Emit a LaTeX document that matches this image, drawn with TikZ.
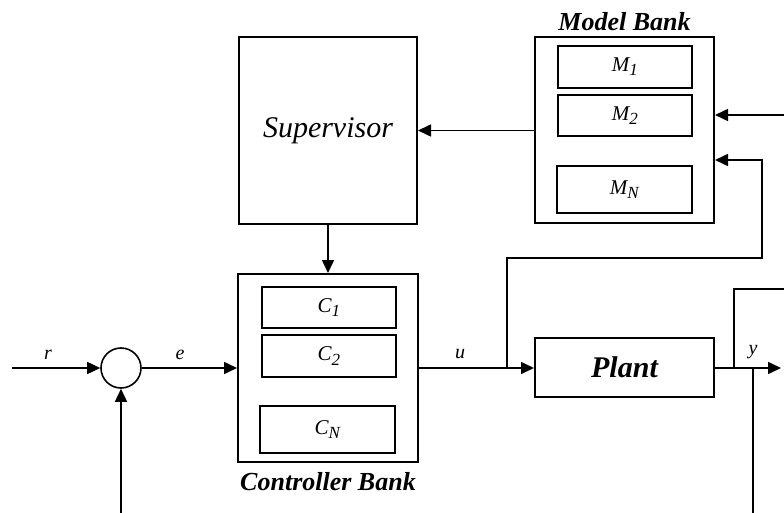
\documentclass[tikz,border=0pt]{standalone}
\usepackage{fontspec}
\setmainfont{Liberation Serif}
\usetikzlibrary{arrows.meta,calc}

\tikzset{
  block/.style={draw, line width=2pt, inner sep=0pt, rectangle},
  subblock/.style={draw, line width=1.8pt, inner sep=0pt, rectangle, font=\fontsize{21}{24}\selectfont\itshape},
  wire/.style={line width=1.6pt},
  arr/.style={wire, -{Triangle[length=13pt,width=12pt]}},
  sig/.style={font=\fontsize{20}{22}\selectfont\itshape, inner sep=0pt},
  title/.style={font=\fontsize{26}{28}\selectfont\bfseries\itshape, inner sep=0pt}
}
\newcommand{\lbl}[2]{#1\textsubscript{\fontsize{17}{18}\selectfont #2}}

\begin{document}
\begin{tikzpicture}[x=1pt,y=-1pt]
\useasboundingbox (0,0) rectangle (784,513);

% Supervisor
\node[block, minimum width=178pt, minimum height=187pt,
      font=\fontsize{30}{34}\selectfont\itshape] (sup) at (328,130.5) {Supervisor};

% Model bank with its models
\node[block, minimum width=179pt, minimum height=186pt] (mb) at (624.5,130) {};
\node[title] (mbl) at (624.5,22) {Model Bank};
\node[subblock, minimum width=134pt, minimum height=42pt] (m1) at (625,67) {\lbl{M}{1}};
\node[subblock, minimum width=134pt, minimum height=41pt] (m2) at (625,115.5) {\lbl{M}{2}};
\node[subblock, minimum width=135pt, minimum height=47pt] (mn) at (624.5,189.5) {\lbl{M}{N}};

% Controller bank with its controllers
\node[block, minimum width=180pt, minimum height=188pt] (cb) at (328,368) {};
\node[title] (cbl) at (328,482) {Controller Bank};
\node[subblock, minimum width=134pt, minimum height=41pt] (c1) at (329,307.5) {\lbl{C}{1}};
\node[subblock, minimum width=134pt, minimum height=42pt] (c2) at (329,356) {\lbl{C}{2}};
\node[subblock, minimum width=135pt, minimum height=47pt] (cn) at (327.5,429.5) {\lbl{C}{N}};

% Plant
\node[block, minimum width=179pt, minimum height=59pt,
      font=\fontsize{30}{34}\selectfont\bfseries\itshape] (plant) at (624.5,367.5) {Plant};

% Summing junction
\node[draw, circle, line width=1.6pt, minimum size=40pt, inner sep=0pt] (sum) at (121,368) {};

% Free ends and branch points
\coordinate (rin) at (12,368);
\coordinate (fbin) at (121,513);
\coordinate (bu) at (507,368);
\coordinate (bu1) at (507,258);
\coordinate (bu2) at (762,258);
\coordinate (bu3) at (762,160);
\coordinate (yin) at (784,115);
\coordinate (yout) at (781,368);
\coordinate (by) at (734,368);
\coordinate (by1) at (734,289);
\coordinate (by2) at (784,289);
\coordinate (fy) at (753,368);
\coordinate (fyout) at (753,513);

% Connectors
\draw[arr] (rin) -- (sum.west);
\draw[arr] (fbin) -- (sum.south);
\draw[arr] (sum.east) -- (sum.east -| cb.west);
\draw[arr] (mb.west |- sup.east) -- (sup.east);
\draw[arr] (sup.south) -- (cb.north);
\draw[arr] (cb.east |- bu) -- (plant.west |- bu);
\draw[arr] (bu) -- (bu1) -- (bu2) -- (bu3) -- (bu3 -| mb.east);
\draw[arr] (yin) -- (yin -| mb.east);
\draw[arr] (plant.east |- yout) -- (yout);
\draw[wire] (by) -- (by1) -- (by2);
\draw[wire] (fy) -- (fyout);

% Signal labels
\node[sig] (lr) at (48,355) {r};
\node[sig] (le) at (180,355) {e};
\node[sig] (lu) at (460,354) {u};
\node[sig] (ly) at (753,352) {y};
\end{tikzpicture}
\end{document}
